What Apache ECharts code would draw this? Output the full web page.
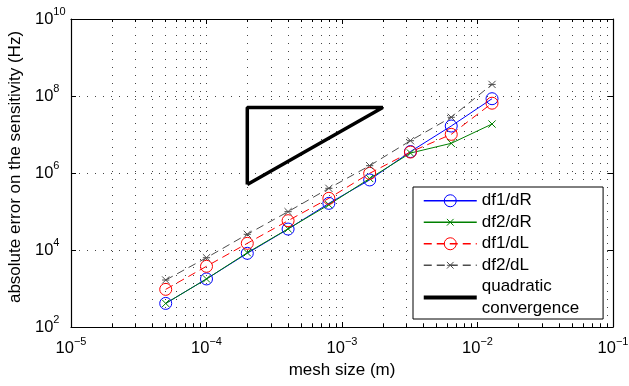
<!DOCTYPE html>
<html>
<head>
<meta charset="utf-8">
<script src="https://cdn.jsdelivr.net/npm/echarts@6/dist/echarts.min.js"></script>
<style>
  html, body { margin: 0; padding: 0; background: #fff; }
  #chart { width: 629px; height: 386px; }
</style>
</head>
<body>
<div id="chart"></div>
<script>
// mesh sizes (m) and absolute errors (Hz)
const meshSize = [5e-5, 1e-4, 2e-4, 4e-4, 8e-4, 1.6e-3, 3.2e-3, 6.4e-3, 1.28e-2];
const df1dR = [410, 1770, 8200, 35000, 163000, 660000, 3.6e6, 1.66e7, 8.5e7];
const df2dR = [410, 1770, 8500, 35500, 150000, 720000, 3.3e6, 5.9e6, 1.87e7];
const df1dL = [950, 3770, 14900, 57700, 220000, 980000, 3.5e6, 1.01e7, 6.5e7];
const df2dL = [1660, 6300, 25600, 99000, 400000, 1.55e6, 6.9e6, 2.8e7, 2.0e8];

// reference triangle for quadratic convergence
const triX = [2e-4, 2e-3, 2e-4, 2e-4];
const triY = [5e5, 5e7, 5e7, 5e5];

// tick values
const xMajor = [1e-5, 1e-4, 1e-3, 1e-2, 1e-1];
const yMajor = [1e2, 1e4, 1e6, 1e8, 1e10];
const mantissas = [2, 3, 4, 5, 6, 7, 8, 9];
const xMinor = [];
xMajor.slice(0, -1).forEach((d) => mantissas.forEach((m) => xMinor.push(m * d)));

const FONT = '"Liberation Sans", Arial, sans-serif';
const pairs = (xs, ys) => xs.map((x, i) => [x, ys[i]]);

const powLabel = (v) =>
  '{b|10}{s|' + String(Math.round(Math.log10(v))).replace('-', '\u2212') + '}';
const rich = {
  b: { fontSize: 16.5, fontFamily: FONT, color: '#000', padding: [4, 0, 4, 0] },
  s: { fontSize: 11, fontFamily: FONT, color: '#000', verticalAlign: 'top' }
};

const dotted = { color: '#444', width: 1, type: [1, 7] };
const blackLine = { show: true, lineStyle: { color: '#000', width: 1.2 } };
const xRange = { type: 'log', logBase: 10, min: 1e-5, max: 1e-1 };
const yRange = { type: 'log', logBase: 10, min: 1e2, max: 1e10 };

// open marker shapes, padded so the drawn cross is smaller than the symbol box
const crossPath = 'path://M-4,-4L-4,-4M14,14L14,14M0,0L10,10M10,0L0,10';
const starPath = 'path://M-4,-4L-4,-4M14,14L14,14M0,0L10,10M10,0L0,10M0,5L10,5';

const chart = echarts.init(document.getElementById('chart'));

chart.setOption({
  animation: false,
  backgroundColor: '#fff',
  grid: { left: 71, right: 16, top: 19, bottom: 59, containLabel: false, outerBoundsMode: 'none' },
  xAxis: [
    {
      ...xRange,
      position: 'bottom',
      name: 'mesh size (m)',
      nameLocation: 'middle',
      nameGap: 34,
      nameTextStyle: { fontSize: 17, fontFamily: FONT, color: '#000' },
      axisLine: blackLine,
      axisTick: { show: true, inside: true, length: 5, customValues: xMajor, lineStyle: { color: '#000' } },
      axisLabel: { customValues: xMajor, formatter: powLabel, rich: rich, margin: 9 },
      splitLine: { show: true, lineStyle: dotted },
      minorTick: { show: false }
    },
    {
      ...xRange,
      position: 'bottom',
      axisLine: { show: false },
      axisTick: { show: true, inside: true, length: 3, customValues: xMinor, lineStyle: { color: '#000' } },
      axisLabel: { show: false },
      splitLine: { show: true, lineStyle: dotted }
    },
    {
      ...xRange,
      position: 'top',
      axisLine: blackLine,
      axisTick: { show: true, inside: true, length: 5, customValues: xMajor, lineStyle: { color: '#000' } },
      axisLabel: { show: false },
      splitLine: { show: false }
    },
    {
      ...xRange,
      position: 'top',
      axisLine: { show: false },
      axisTick: { show: true, inside: true, length: 3, customValues: xMinor, lineStyle: { color: '#000' } },
      axisLabel: { show: false },
      splitLine: { show: false }
    }
  ],
  yAxis: [
    {
      ...yRange,
      position: 'left',
      name: 'absolute error on the sensitivity (Hz)',
      nameLocation: 'middle',
      nameGap: 42,
      nameTextStyle: { fontSize: 17, fontFamily: FONT, color: '#000', padding: [0, 0, 0, 12] },
      axisLine: blackLine,
      axisTick: { show: true, inside: true, length: 5, customValues: yMajor, lineStyle: { color: '#000' } },
      axisLabel: { customValues: yMajor, formatter: powLabel, rich: rich, align: 'left', margin: 36 },
      splitLine: { show: true, lineStyle: dotted }
    },
    {
      ...yRange,
      position: 'right',
      axisLine: blackLine,
      axisTick: { show: true, inside: true, length: 5, customValues: yMajor, lineStyle: { color: '#000' } },
      axisLabel: { show: false },
      splitLine: { show: false }
    }
  ],
  legend: {
    orient: 'vertical',
    left: 413,
    top: 187,
    padding: [3, 24, 0, 10],
    itemGap: 0,
    itemWidth: 53,
    itemHeight: 15,
    backgroundColor: '#fff',
    borderColor: '#000',
    borderWidth: 1,
    borderRadius: 0,
    textStyle: { fontSize: 17, fontFamily: FONT, color: '#000', lineHeight: 21.5 },
    data: [
      { name: 'df1/dR', lineStyle: { width: 1.5 }, itemStyle: { borderWidth: 1 } },
      { name: 'df2/dR', lineStyle: { width: 1.5 }, itemStyle: { borderWidth: 1 } },
      { name: 'df1/dL', lineStyle: { width: 1.5 }, itemStyle: { borderWidth: 1 } },
      { name: 'df2/dL', lineStyle: { width: 1.5 }, itemStyle: { borderWidth: 1 } },
      {
        name: 'quadratic\nconvergence',
        icon: 'path://M0,0L53,0L53,4L0,4Z',
        itemStyle: { color: '#000', borderWidth: 0 }
      }
    ]
  },
  series: [
    {
      name: 'df1/dR',
      type: 'line',
      data: pairs(meshSize, df1dR),
      symbol: 'circle',
      symbolSize: 12,
      lineStyle: { color: '#0000ff', width: 1 },
      itemStyle: { color: 'transparent', borderColor: '#0000ff', borderWidth: 1 }
    },
    {
      name: 'df2/dR',
      type: 'line',
      data: pairs(meshSize, df2dR),
      symbol: crossPath,
      symbolSize: 13,
      lineStyle: { color: '#008000', width: 1 },
      itemStyle: { color: 'transparent', borderColor: '#008000', borderWidth: 1 }
    },
    {
      name: 'df1/dL',
      type: 'line',
      data: pairs(meshSize, df1dL),
      symbol: 'circle',
      symbolSize: 12,
      lineStyle: { color: '#ff0000', width: 1, type: [8, 5] },
      itemStyle: { color: 'transparent', borderColor: '#ff0000', borderWidth: 1 }
    },
    {
      name: 'df2/dL',
      type: 'line',
      data: pairs(meshSize, df2dL),
      symbol: starPath,
      symbolSize: 13,
      lineStyle: { color: '#4d4d4d', width: 1, type: [8, 5] },
      itemStyle: { color: 'transparent', borderColor: '#4d4d4d', borderWidth: 1 }
    },
    {
      name: 'quadratic\nconvergence',
      type: 'line',
      data: pairs(triX, triY),
      symbol: 'none',
      lineStyle: { color: '#000', width: 3.5 },
      itemStyle: { color: '#000' }
    }
  ]
});
</script>
</body>
</html>
